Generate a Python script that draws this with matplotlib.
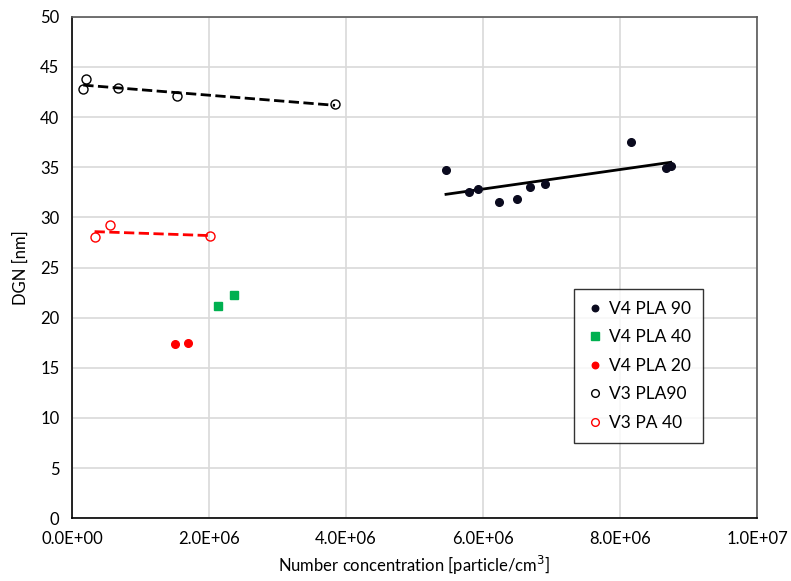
import matplotlib
matplotlib.use('Agg')
from matplotlib import pyplot as plt
import numpy as np

plt.rcParams['font.family'] = ['Lato', 'DejaVu Sans']

# V4 PLA 90 (filled black)
v4_90_x = [5.46e6, 5.80e6, 5.93e6, 6.23e6, 6.49e6, 6.69e6, 6.90e6, 8.16e6, 8.67e6, 8.74e6]
v4_90_y = [34.7, 32.5, 32.8, 31.5, 31.8, 33.0, 33.3, 37.5, 34.9, 35.1]
# V4 PLA 40 (green squares)
v4_40_x = [2.13e6, 2.37e6]
v4_40_y = [21.2, 22.3]
# V4 PLA 20 (red filled)
v4_20_x = [1.51e6, 1.70e6]
v4_20_y = [17.4, 17.5]
# V3 PLA90 (open black)
v3_90_x = [0.20e6, 0.165e6, 0.667e6, 1.54e6, 3.84e6]
v3_90_y = [43.8, 42.8, 42.9, 42.1, 41.3]
# V3 PA 40 (open red)
v3_40_x = [0.33e6, 0.55e6, 2.01e6]
v3_40_y = [28.0, 29.2, 28.1]

fig = plt.figure(figsize=(7.91, 5.81), dpi=100)
ax = fig.add_axes([0.091, 0.108, 0.866, 0.863])

ax.grid(True, color='#d9d9d9', linewidth=1.2, zorder=0)
ax.set_axisbelow(True)

ax.plot(v4_90_x, v4_90_y, 'o', color='#0a0a1e', markersize=5.5, label='V4 PLA 90', zorder=3)
ax.plot(v4_40_x, v4_40_y, 's', color='#00b050', markersize=6, label='V4 PLA 40', zorder=3)
ax.plot(v4_20_x, v4_20_y, 'o', color='#ff0000', markersize=5.5, label='V4 PLA 20', zorder=3)
ax.plot(v3_90_x, v3_90_y, 'o', mfc='none', mec='black', mew=1.0, markersize=6.5, label='V3 PLA90', zorder=3)
ax.plot(v3_40_x, v3_40_y, 'o', mfc='none', mec='#ff0000', mew=1.0, markersize=6.5, label='V3 PA 40', zorder=3)

# linear trendlines
def trend(xs, ys, style, color):
    k, b = np.polyfit(xs, ys, 1)
    xx = np.array([min(xs), max(xs)])
    ax.plot(xx, k * xx + b, style, color=color, linewidth=2, zorder=2)

trend(v4_90_x, v4_90_y, '-', 'black')
trend(v3_90_x, v3_90_y, '--', 'black')
trend(v3_40_x, v3_40_y, '--', '#ff0000')

ax.set_xlim(0, 1e7)
ax.set_ylim(0, 50)
ax.set_xticks(np.arange(0, 1.01e7, 2e6))
ax.set_xticklabels(['0.0E+00', '2.0E+06', '4.0E+06', '6.0E+06', '8.0E+06', '1.0E+07'])
ax.set_yticks(range(0, 51, 5))
ax.tick_params(length=0, labelsize=12, pad=9)

for s in ['top', 'right']:
    ax.spines[s].set_color('#595959')
ax.spines['left'].set_color('black')
ax.spines['bottom'].set_color('black')
for s in ax.spines.values():
    s.set_linewidth(1.2)

ax.set_xlabel('Number concentration [particle/cm$^3$]', fontsize=12, labelpad=5)
ax.set_ylabel('DGN [nm]', fontsize=12, labelpad=8)

leg = ax.legend(loc='upper left', bbox_to_anchor=(0.72, 0.475), fontsize=12.5,
                frameon=True, fancybox=False, edgecolor='black', handlelength=1.0,
                handletextpad=0.3, labelspacing=0.72, borderpad=0.7, markerscale=0.85)
leg.get_frame().set_linewidth(1.0)

fig.savefig('out.png', dpi=100)
